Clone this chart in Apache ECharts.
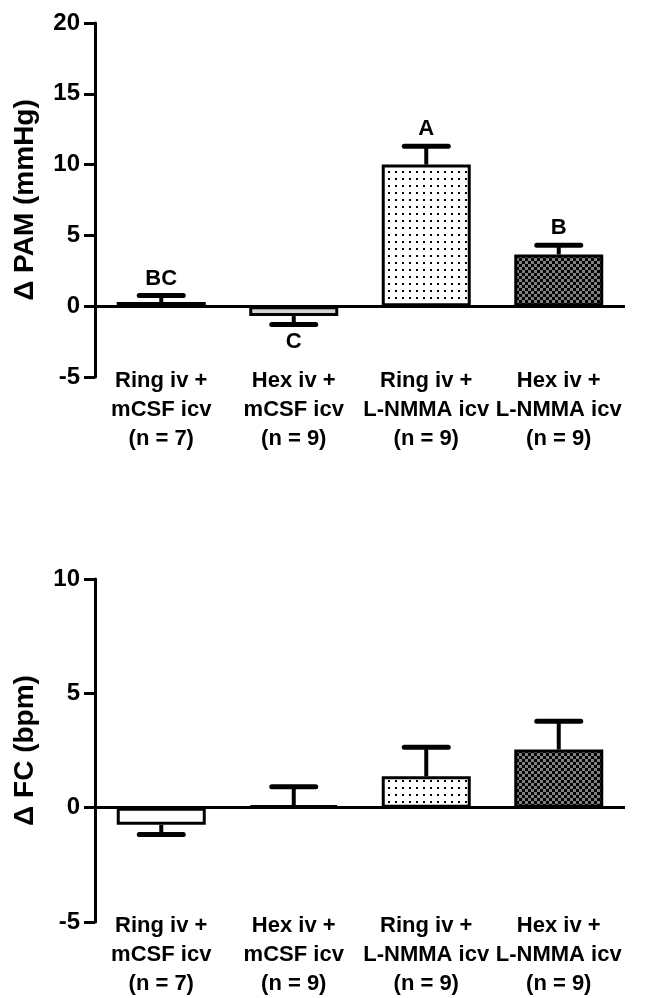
<!DOCTYPE html>
<html>
<head>
<meta charset="utf-8">
<script src="https://cdn.jsdelivr.net/npm/echarts@6/dist/echarts.min.js"></script>
<style>html,body{margin:0;padding:0;background:#fff}#c{width:646px;height:998px}</style>
</head>
<body>
<div id="c"></div>
<script>
const categories = ['Ring iv +\nmCSF icv\n(n = 7)', 'Hex iv +\nmCSF icv\n(n = 9)', 'Ring iv +\nL-NMMA icv\n(n = 9)', 'Hex iv +\nL-NMMA icv\n(n = 9)'];
const pamMean = [0.3, -0.7, 10.0, 3.65];
const pamSem = [0.45, 0.6, 1.3, 0.65];
const pamLetters = ['BC', 'C', 'A', 'B'];
const fcMean = [-0.75, 0.1, 1.37, 2.54];
const fcSem = [0.42, 0.82, 1.27, 1.24];
const fcLetters = ['', '', '', ''];
const pamTicks = {min: -5, max: 20, interval: 5};
const fcTicks = {min: -5, max: 10, interval: 5};

function makeDots() {
  const c = document.createElement('canvas'); c.width = 7; c.height = 7;
  const g = c.getContext('2d'); g.fillStyle = '#fff'; g.fillRect(0, 0, 7, 7);
  g.fillStyle = '#000'; g.fillRect(3, 3, 2, 2); return c;
}
function makeChecker() {
  const c = document.createElement('canvas'); c.width = 6; c.height = 6;
  const g = c.getContext('2d'); g.fillStyle = '#000'; g.fillRect(0, 0, 6, 6);
  g.fillStyle = '#808080'; g.fillRect(0, 0, 3, 3); g.fillRect(3, 3, 3, 3); return c;
}
const fills = ['#ffffff', '#d4d4d4', {image: makeDots(), repeat: 'repeat'}, {image: makeChecker(), repeat: 'repeat'}];
const FONT = "'Liberation Sans', Arial, sans-serif";

function barData(means) {
  return means.map((v, i) => ({value: v, itemStyle: {color: fills[i]}}));
}
function errData(means, sems, letters) {
  return means.map((v, i) => [i, v, v >= 0 ? v + sems[i] : v - sems[i], letters[i]]);
}
function renderErr(params, api) {
  const p0 = api.coord([api.value(0), api.value(1)]);
  const p1 = api.coord([api.value(0), api.value(2)]);
  const x = p0[0];
  const dir = p1[1] < p0[1] ? -1 : 1;
  const letter = api.value(3);
  const children = [
    {type: 'line', shape: {x1: x, y1: p0[1], x2: x, y2: p1[1]}, style: {stroke: '#000', lineWidth: 4}},
    {type: 'line', shape: {x1: x - 22, y1: p1[1], x2: x + 22, y2: p1[1]}, style: {stroke: '#000', lineWidth: 5, lineCap: 'round'}}
  ];
  if (letter) {
    children.push({type: 'text', style: {text: letter, x: x, y: p1[1] + dir * 17, align: 'center', verticalAlign: 'middle',
      font: 'bold 22px ' + FONT, fill: '#000'}});
  }
  return {type: 'group', children: children};
}

const grids = [
  {left: 95, width: 530, top: 23, height: 354},
  {left: 95, width: 530, top: 579, height: 354}
];
const names = ['\u0394 PAM (mmHg)', '\u0394 FC (bpm)'];
const ticks = [pamTicks, fcTicks];

const xAxes = grids.map((g, i) => ({
  type: 'category', gridIndex: i, data: categories,
  axisLine: {show: false}, axisTick: {show: false},
  axisLabel: {interval: 0, margin: -11, fontFamily: FONT, fontWeight: 'bold', fontSize: 22, lineHeight: 29, color: '#000'}
}));
const yAxes = grids.map((g, i) => ({
  type: 'value', gridIndex: i, min: ticks[i].min, max: ticks[i].max, interval: ticks[i].interval,
  name: names[i], nameLocation: 'middle', nameGap: 56, nameRotate: 90,
  nameTextStyle: {fontFamily: FONT, fontWeight: 'bold', fontSize: 28, color: '#000'},
  splitLine: {show: false},
  axisLine: {show: true, lineStyle: {color: '#000', width: 3}},
  axisTick: {show: true, length: 11, lineStyle: {color: '#000', width: 3}},
  axisLabel: {margin: 15, fontFamily: FONT, fontWeight: 'bold', fontSize: 24, color: '#000'}
}));

const series = [];
[[pamMean, pamSem, pamLetters], [fcMean, fcSem, fcLetters]].forEach((d, i) => {
  series.push({
    type: 'bar', xAxisIndex: i, yAxisIndex: i, data: barData(d[0]), barWidth: 89,
    itemStyle: {borderColor: '#000', borderWidth: 3},
    markLine: {silent: true, symbol: 'none', label: {show: false},
      lineStyle: {color: '#000', width: 3, type: 'solid'}, data: [{yAxis: 0}]},
    z: 2
  });
  series.push({
    type: 'custom', xAxisIndex: i, yAxisIndex: i, data: errData(d[0], d[1], d[2]),
    renderItem: renderErr, z: 3
  });
});

const chart = echarts.init(document.getElementById('c'), null, {renderer: 'canvas'});
chart.setOption({animation: false, backgroundColor: '#fff', grid: grids, xAxis: xAxes, yAxis: yAxes, series: series});
</script>
</body>
</html>
